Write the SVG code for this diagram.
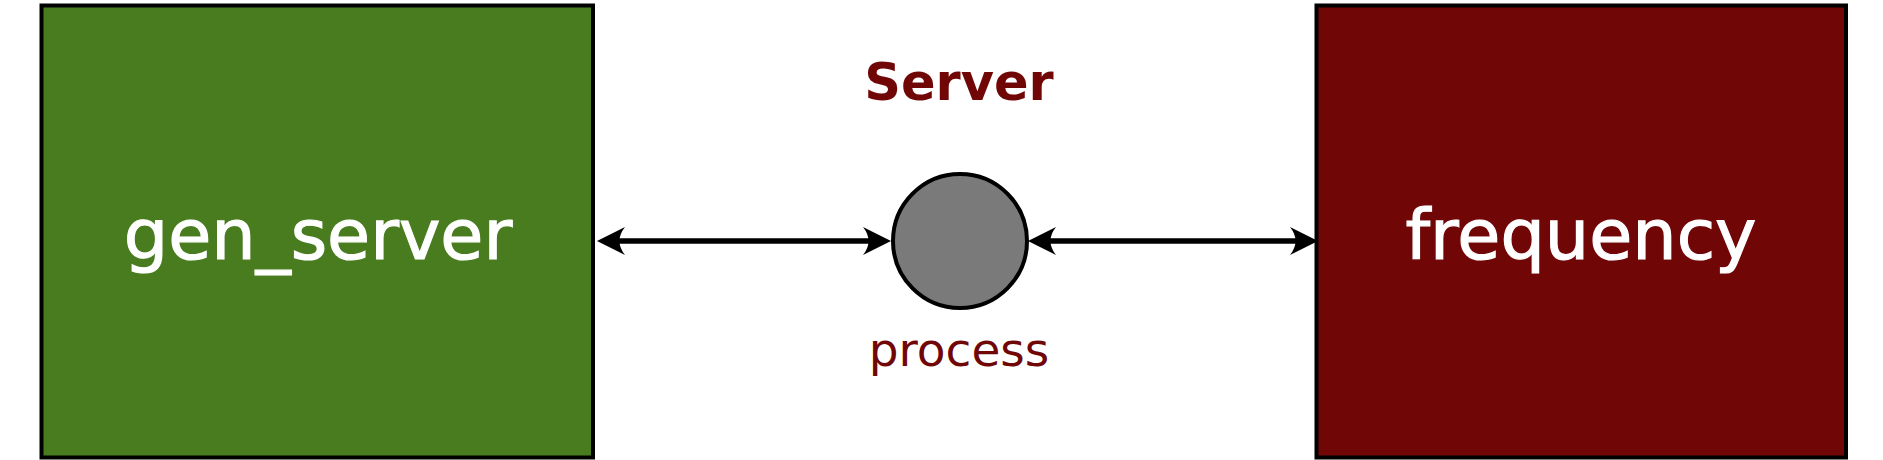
<svg xmlns="http://www.w3.org/2000/svg" width="1883" height="460" viewBox="0 0 1883 460">
  <style>
    .box { stroke: #000; stroke-width: 4; }
    .label { font-family: "DejaVu Sans", "Liberation Sans", sans-serif; fill: #ffffff; stroke: #ffffff; stroke-width: 1.2; font-size: 70px; text-anchor: middle; }
    .title { font-family: "DejaVu Sans", "Liberation Sans", sans-serif; fill: #700606; text-anchor: middle; }
    .conn { fill: none; stroke: #000; stroke-width: 5.5; }
  </style>
  <defs>
    <marker id="arrow" markerUnits="userSpaceOnUse" viewBox="-32 -16 34 32" markerWidth="34" markerHeight="32" refX="-18" refY="0" orient="auto-start-reverse">
      <path d="M0,0 L-28,-14 Q-17,0 -28,14 Z" fill="#000"/>
    </marker>
  </defs>
  <rect width="1883" height="460" fill="#ffffff"/>

  <g id="gen_server">
    <rect class="box" x="41.5" y="5.5" width="551.5" height="452" fill="#487c1f"/>
    <text class="label" x="318" y="259">gen_server</text>
  </g>

  <g id="frequency">
    <rect class="box" x="1316.5" y="5.5" width="529.5" height="452" fill="#700606"/>
    <text class="label" x="1581" y="259">frequency</text>
  </g>

  <g id="server-process">
    <text class="title" x="959" y="100" font-size="51" font-weight="bold">Server</text>
    <circle cx="960" cy="241" r="67" fill="#7a7a7a" stroke="#000" stroke-width="4"/>
    <text class="title" x="959" y="366" font-size="47">process</text>
  </g>

  <g id="connectors">
    <path class="conn" d="M615,241 L873,241" marker-start="url(#arrow)" marker-end="url(#arrow)"/>
    <path class="conn" d="M1046,241 L1300,241" marker-start="url(#arrow)" marker-end="url(#arrow)"/>
  </g>
</svg>
